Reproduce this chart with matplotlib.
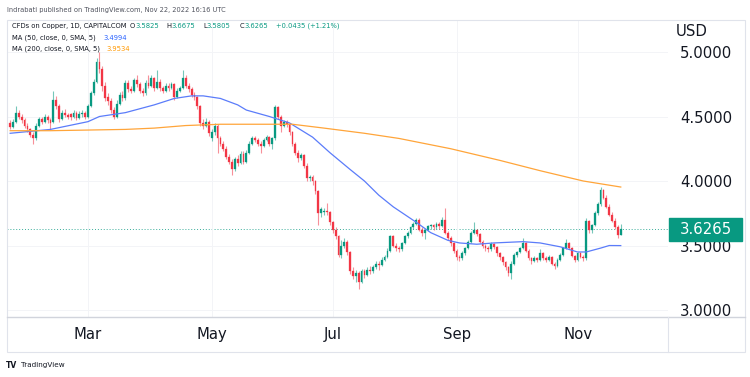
import matplotlib
matplotlib.use("Agg")
import matplotlib.pyplot as plt
import numpy as np
import pandas as pd
from matplotlib.patches import Rectangle
from matplotlib.lines import Line2D

# ---------------- data (CFDs on Copper, 1D) ----------------
holidays = ["2022-02-21", "2022-04-15", "2022-05-30", "2022-06-20", "2022-07-04", "2022-09-05"]
start_date = "2022-01-20"
end_date = "2022-11-22"

opens = [
    4.45, 4.42, 4.46, 4.53, 4.50, 4.47, 4.43, 4.40, 4.36, 4.33,
    4.43, 4.48, 4.46, 4.50, 4.47, 4.46, 4.63, 4.58, 4.48, 4.53,
    4.51, 4.52, 4.50, 4.53, 4.49, 4.52, 4.53, 4.50, 4.58, 4.68,
    4.77, 4.92, 4.87, 4.74, 4.65, 4.62, 4.55, 4.50, 4.60, 4.67,
    4.64, 4.76, 4.71, 4.70, 4.78, 4.75, 4.70, 4.68, 4.76, 4.74,
    4.80, 4.72, 4.77, 4.72, 4.70, 4.74, 4.72, 4.75, 4.65, 4.70,
    4.72, 4.80, 4.74, 4.71, 4.67, 4.65, 4.58, 4.45, 4.43, 4.46,
    4.33, 4.38, 4.43, 4.33, 4.29, 4.25, 4.19, 4.15, 4.09, 4.17,
    4.14, 4.21, 4.15, 4.22, 4.29, 4.33, 4.32, 4.29, 4.27, 4.32,
    4.34, 4.29, 4.33, 4.57, 4.50, 4.43, 4.46, 4.44, 4.38, 4.29,
    4.22, 4.18, 4.20, 4.12, 4.02, 4.03, 4.00, 3.92, 3.75, 3.76,
    3.77, 3.76, 3.68, 3.62, 3.57, 3.43, 3.50, 3.53, 3.45, 3.30,
    3.26, 3.29, 3.22, 3.30, 3.27, 3.31, 3.30, 3.33, 3.36, 3.35,
    3.39, 3.41, 3.46, 3.57, 3.50, 3.48, 3.47, 3.52, 3.57, 3.60,
    3.64, 3.67, 3.70, 3.62, 3.60, 3.62, 3.65, 3.66, 3.64, 3.67,
    3.65, 3.70, 3.60, 3.56, 3.52, 3.46, 3.41, 3.40, 3.44, 3.48,
    3.53, 3.60, 3.62, 3.59, 3.53, 3.50, 3.48, 3.47, 3.51, 3.49,
    3.44, 3.41, 3.37, 3.33, 3.29, 3.36, 3.43, 3.45, 3.48, 3.52,
    3.46, 3.40, 3.38, 3.40, 3.39, 3.44, 3.40, 3.39, 3.41, 3.36,
    3.34, 3.39, 3.43, 3.48, 3.52, 3.48, 3.42, 3.39, 3.44, 3.41,
    3.40, 3.69, 3.62, 3.66, 3.75, 3.82, 3.93, 3.87, 3.80, 3.74,
    3.69, 3.64, 3.5825]

highs = [
    4.47, 4.48, 4.58, 4.55, 4.52, 4.49, 4.45, 4.41, 4.38, 4.45,
    4.50, 4.50, 4.52, 4.51, 4.49, 4.70, 4.66, 4.60, 4.55, 4.56,
    4.53, 4.53, 4.55, 4.54, 4.54, 4.55, 4.54, 4.60, 4.70, 4.79,
    4.95, 5.00, 4.89, 4.77, 4.68, 4.64, 4.57, 4.63, 4.69, 4.70,
    4.78, 4.78, 4.74, 4.80, 4.82, 4.77, 4.72, 4.78, 4.82, 4.82,
    4.81, 4.86, 4.79, 4.74, 4.76, 4.76, 4.77, 4.76, 4.72, 4.74,
    4.86, 4.82, 4.76, 4.73, 4.69, 4.66, 4.59, 4.48, 4.49, 4.47,
    4.40, 4.45, 4.44, 4.35, 4.31, 4.27, 4.21, 4.17, 4.19, 4.20,
    4.23, 4.23, 4.24, 4.31, 4.35, 4.35, 4.33, 4.31, 4.33, 4.36,
    4.35, 4.34, 4.59, 4.58, 4.51, 4.47, 4.47, 4.45, 4.39, 4.30,
    4.24, 4.22, 4.21, 4.14, 4.05, 4.05, 4.01, 3.93, 3.80, 3.79,
    3.83, 3.77, 3.69, 3.64, 3.58, 3.54, 3.56, 3.54, 3.46, 3.33,
    3.31, 3.30, 3.32, 3.32, 3.33, 3.34, 3.35, 3.38, 3.38, 3.41,
    3.43, 3.48, 3.58, 3.58, 3.52, 3.50, 3.53, 3.58, 3.61, 3.65,
    3.68, 3.71, 3.71, 3.64, 3.63, 3.66, 3.67, 3.67, 3.68, 3.68,
    3.72, 3.79, 3.61, 3.57, 3.53, 3.47, 3.43, 3.46, 3.49, 3.54,
    3.61, 3.68, 3.63, 3.60, 3.54, 3.51, 3.50, 3.53, 3.52, 3.50,
    3.45, 3.42, 3.38, 3.34, 3.38, 3.44, 3.46, 3.49, 3.56, 3.53,
    3.47, 3.41, 3.42, 3.41, 3.47, 3.45, 3.42, 3.43, 3.42, 3.37,
    3.40, 3.44, 3.49, 3.55, 3.53, 3.49, 3.43, 3.45, 3.45, 3.43,
    3.71, 3.70, 3.67, 3.77, 3.84, 3.95, 3.94, 3.89, 3.82, 3.76,
    3.71, 3.66, 3.6675]

lows = [
    4.40, 4.41, 4.45, 4.48, 4.45, 4.41, 4.38, 4.34, 4.29, 4.32,
    4.42, 4.44, 4.45, 4.45, 4.40, 4.45, 4.56, 4.46, 4.47, 4.50,
    4.48, 4.47, 4.49, 4.47, 4.48, 4.50, 4.48, 4.49, 4.57, 4.67,
    4.76, 4.84, 4.70, 4.62, 4.59, 4.53, 4.48, 4.49, 4.59, 4.62,
    4.63, 4.69, 4.68, 4.69, 4.73, 4.68, 4.66, 4.67, 4.72, 4.73,
    4.70, 4.71, 4.70, 4.68, 4.69, 4.70, 4.71, 4.63, 4.64, 4.69,
    4.71, 4.72, 4.69, 4.65, 4.63, 4.56, 4.43, 4.40, 4.42, 4.35,
    4.31, 4.36, 4.22, 4.27, 4.23, 4.17, 4.13, 4.05, 4.08, 4.12,
    4.13, 4.13, 4.14, 4.21, 4.28, 4.30, 4.27, 4.22, 4.26, 4.31,
    4.27, 4.25, 4.32, 4.48, 4.38, 4.42, 4.42, 4.36, 4.27, 4.20,
    4.15, 4.16, 4.10, 4.00, 4.00, 3.97, 3.90, 3.66, 3.72, 3.74,
    3.74, 3.66, 3.60, 3.55, 3.41, 3.40, 3.48, 3.43, 3.28, 3.24,
    3.22, 3.16, 3.21, 3.25, 3.26, 3.28, 3.29, 3.32, 3.31, 3.34,
    3.38, 3.40, 3.45, 3.49, 3.46, 3.45, 3.46, 3.51, 3.56, 3.59,
    3.63, 3.66, 3.61, 3.57, 3.55, 3.61, 3.63, 3.62, 3.63, 3.63,
    3.64, 3.59, 3.54, 3.50, 3.44, 3.39, 3.38, 3.39, 3.43, 3.47,
    3.52, 3.59, 3.57, 3.52, 3.48, 3.46, 3.45, 3.46, 3.47, 3.42,
    3.39, 3.35, 3.31, 3.26, 3.24, 3.35, 3.41, 3.44, 3.47, 3.45,
    3.39, 3.36, 3.37, 3.37, 3.38, 3.39, 3.37, 3.38, 3.35, 3.32,
    3.33, 3.38, 3.42, 3.47, 3.47, 3.41, 3.37, 3.38, 3.40, 3.38,
    3.39, 3.60, 3.60, 3.65, 3.74, 3.81, 3.86, 3.79, 3.73, 3.68,
    3.63, 3.56, 3.5805]

closes = [
    4.42, 4.46, 4.53, 4.50, 4.47, 4.43, 4.40, 4.36, 4.33, 4.43,
    4.48, 4.46, 4.50, 4.47, 4.45, 4.63, 4.58, 4.48, 4.53, 4.51,
    4.50, 4.50, 4.53, 4.49, 4.52, 4.53, 4.50, 4.58, 4.68, 4.77,
    4.92, 4.87, 4.74, 4.64, 4.62, 4.55, 4.50, 4.60, 4.67, 4.64,
    4.76, 4.71, 4.70, 4.78, 4.75, 4.70, 4.68, 4.76, 4.74, 4.80,
    4.72, 4.77, 4.72, 4.70, 4.74, 4.72, 4.75, 4.65, 4.70, 4.72,
    4.80, 4.74, 4.71, 4.67, 4.65, 4.58, 4.45, 4.43, 4.46, 4.37,
    4.38, 4.43, 4.33, 4.29, 4.25, 4.19, 4.15, 4.09, 4.17, 4.14,
    4.21, 4.15, 4.22, 4.29, 4.33, 4.32, 4.29, 4.27, 4.32, 4.34,
    4.29, 4.33, 4.57, 4.50, 4.43, 4.46, 4.44, 4.38, 4.29, 4.22,
    4.18, 4.20, 4.12, 4.02, 4.03, 4.00, 3.92, 3.75, 3.78, 3.77,
    3.76, 3.68, 3.62, 3.57, 3.43, 3.50, 3.53, 3.45, 3.30, 3.26,
    3.29, 3.22, 3.30, 3.27, 3.31, 3.30, 3.33, 3.36, 3.35, 3.39,
    3.41, 3.46, 3.57, 3.50, 3.48, 3.47, 3.52, 3.57, 3.60, 3.64,
    3.67, 3.70, 3.62, 3.60, 3.62, 3.65, 3.66, 3.64, 3.67, 3.65,
    3.70, 3.60, 3.56, 3.52, 3.46, 3.41, 3.40, 3.44, 3.48, 3.53,
    3.60, 3.62, 3.59, 3.53, 3.50, 3.48, 3.47, 3.51, 3.49, 3.44,
    3.41, 3.37, 3.33, 3.29, 3.36, 3.43, 3.45, 3.48, 3.52, 3.46,
    3.40, 3.38, 3.40, 3.39, 3.44, 3.40, 3.39, 3.41, 3.36, 3.34,
    3.39, 3.43, 3.48, 3.52, 3.48, 3.42, 3.39, 3.44, 3.41, 3.40,
    3.69, 3.62, 3.66, 3.75, 3.82, 3.93, 3.87, 3.80, 3.74, 3.69,
    3.64, 3.5825, 3.6265]

# moving averages (bar index, value)
ma50_idx = [0, 14, 27, 31, 40, 50, 57, 63, 67, 73, 79, 82, 90, 97, 105, 111, 118, 123, 128,
            133, 141, 146, 152, 156, 162, 168, 178, 184, 191, 197, 200, 205, 208, 212]
ma50_val = [4.37, 4.40, 4.46, 4.50, 4.53, 4.59, 4.64, 4.66, 4.66, 4.64, 4.59, 4.55, 4.50, 4.45,
            4.34, 4.22, 4.09, 4.00, 3.89, 3.80, 3.68, 3.60, 3.54, 3.52, 3.51, 3.52, 3.53, 3.52,
            3.49, 3.45, 3.45, 3.48, 3.50, 3.4994]
ma200_idx = [0, 14, 40, 50, 61, 73, 91, 98, 109, 123, 135, 153, 170, 184, 199, 212]
ma200_val = [4.39, 4.39, 4.40, 4.41, 4.43, 4.44, 4.44, 4.44, 4.41, 4.37, 4.33, 4.25, 4.16,
             4.08, 4.00, 3.9534]

price_ticks = [3.0, 3.5, 4.0, 4.5, 5.0]
month_labels = ["Mar", "May", "Jul", "Sep", "Nov"]
last_price = 3.6265

# ---------------- style ----------------
UP = "#089981"
DN = "#F23645"
TXT = "#131722"
GRID = "#f3f4f7"
BORDER = "#e0e3eb"

W, H = 750, 377
fig = plt.figure(figsize=(7.5, 3.77), dpi=100)
fig.patch.set_facecolor("white")


def fx(px):
    return px / W


def fy(py):
    return 1 - py / H


ax = fig.add_axes([fx(7), fy(317), fx(668) - fx(7), fy(20) - fy(317)])
ax.set_facecolor("white")

n = len(closes)
dates = pd.bdate_range(start_date, end_date, freq="C", holidays=holidays)[:n]
x = np.arange(n)

o = np.array(opens)
c = np.array(closes)
h = np.array(highs)
l = np.array(lows)
up = c >= o
cols = np.where(up, UP, DN)

# wicks
for i in range(n):
    ax.vlines(x[i], l[i], h[i], color=cols[i], lw=0.8, alpha=0.55, zorder=2)
# bodies
bottoms = np.minimum(o, c)
heights = np.maximum(np.abs(c - o), 0.004)
ax.bar(x, heights, bottom=bottoms, width=0.62, color=cols, edgecolor=cols, lw=0.2, zorder=3)

# moving averages
ax.plot(ma50_idx, ma50_val, color="#5b7cfa", lw=0.9, zorder=4)
ax.plot(ma200_idx, ma200_val, color="#ffa53a", lw=0.9, zorder=4)

# last price dotted line
ax.axhline(last_price, color=UP, lw=0.7, ls=(0, (1, 2)), alpha=0.8, zorder=1)

ax.set_xlim(-1.1, 228.4)
ax.set_ylim(2.946, 5.248)

# month ticks at first bar of month
month_first = {}
for i, d in enumerate(dates):
    key = d.strftime("%b")
    if key not in month_first:
        month_first[key] = i
xt = [month_first[m] for m in month_labels]
ax.set_xticks(xt)
ax.set_xticklabels(month_labels)
ax.set_yticks(price_ticks)
ax.set_yticklabels(["%.4f" % v for v in price_ticks])
ax.yaxis.tick_right()
ax.tick_params(axis="y", length=0, pad=8.6, labelsize=10.7, labelcolor=TXT)
ax.tick_params(axis="x", length=0, pad=7.5, labelsize=10.7, labelcolor=TXT)
ax.grid(True, color=GRID, lw=0.7, zorder=0)
for s in ax.spines.values():
    s.set_visible(False)

# frame lines
fig.add_artist(Rectangle((fx(7), fy(352)), fx(745) - fx(7), (352 - 20) / H,
                         transform=fig.transFigure, fill=False, edgecolor=BORDER, lw=0.8))
fig.add_artist(Line2D([fx(7), fx(745)], [fy(317), fy(317)], transform=fig.transFigure,
                      color="#d1d4dc", lw=1.0))
fig.add_artist(Line2D([fx(668), fx(668)], [fy(317), fy(352)], transform=fig.transFigure,
                      color=BORDER, lw=0.8))

# price tag
fig.add_artist(Rectangle((fx(669), fy(241)), fx(742) - fx(669), (241 - 218) / H,
                         transform=fig.transFigure, facecolor=UP, edgecolor=UP, zorder=5))
fig.text(fx(680), fy(229.5), "%.4f" % last_price, color="white", fontsize=10.7,
         va="center", ha="left", zorder=6)
fig.text(fx(676), fy(31), "USD", color=TXT, fontsize=10.7, va="center", ha="left")

# header texts
fig.text(fx(7), fy(10), "Indrabati published on TradingView.com, Nov 22, 2022 16:16 UTC",
         fontsize=4.8, color="#50535e", va="center", ha="left")

renderer = fig.canvas.get_renderer()
HS = 4.9


def seq(px, py, parts):
    for txt, col in parts:
        t = fig.text(fx(px), fy(py), txt, fontsize=HS, color=col, va="center", ha="left")
        bb = t.get_window_extent(renderer=renderer)
        px += bb.width


seq(12, 26, [("CFDs on Copper, 1D, CAPITALCOM", TXT)])
seq(130, 26, [("O", TXT), ("3.5825", UP)])
seq(166, 26, [("H", TXT), ("3.6675", UP)])
seq(203, 26, [("L", TXT), ("3.5805", UP)])
seq(240, 26, [("C", TXT), ("3.6265", UP)])
seq(276, 26, [("+0.0435 (+1.21%)", UP)])
seq(12, 37.5, [("MA (50, close, 0, SMA, 5)", TXT)])
seq(103, 37.5, [("3.4994", "#2962FF")])
seq(12, 49, [("MA (200, close, 0, SMA, 5)", TXT)])
seq(106, 49, [("3.9534", "#FF9800")])

# footer logo
fig.text(fx(6), fy(365), "TV", fontsize=5.5, fontweight="bold", color=TXT, va="center", ha="left")
fig.text(fx(21), fy(365), "TradingView", fontsize=5.2, color=TXT, va="center", ha="left")

fig.savefig("out.png", dpi=100, facecolor="white")
